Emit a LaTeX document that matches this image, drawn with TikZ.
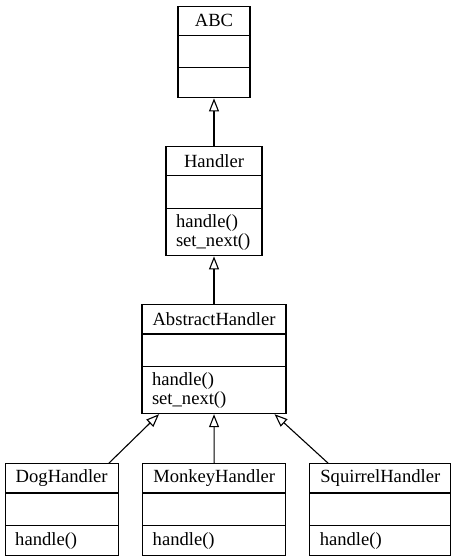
\documentclass[tikz,border=0pt]{standalone}
\usepackage{fontspec}
\setmainfont{Liberation Serif}
\usetikzlibrary{shapes.multipart,arrows.meta}

\tikzset{
  umlclass/.style={draw, line width=1.1pt, rectangle split, rectangle split parts=3,
    inner sep=0pt, anchor=north, font=\fontsize{18.6}{19}\selectfont},
  inherit/.style={-{Triangle[open,length=13pt,width=10pt]}, line width=1.1pt}
}
\newcommand{\umlname}[2]{\parbox[c][28pt][c]{#1pt}{\centering #2}}
\newcommand{\umlgap}[1]{\parbox[c][31.5pt][c]{#1pt}{\mbox{}}}
\newcommand{\umlops}[3]{\parbox[c][#2pt][c]{#1pt}{\raggedright\leftskip=10pt #3}}

\begin{document}
\begin{tikzpicture}[x=1pt,y=-1pt]
\useasboundingbox (0,0) rectangle (457,560);

% Classes
\node[umlclass] (abc) at (214,5.5) {\umlname{72}{ABC}\nodepart{two}\umlgap{72}\nodepart{three}\umlops{72}{29}{}};
\node[umlclass] (handler) at (214,146) {\umlname{96}{Handler}\nodepart{two}\umlgap{96}\nodepart{three}\umlops{96}{46.5}{handle()\\set\_next()}};
\node[umlclass] (abstract) at (214,304.3) {\umlname{144}{AbstractHandler}\nodepart{two}\umlgap{144}\nodepart{three}\umlops{144}{46}{handle()\\set\_next()}};
\node[umlclass] (dog) at (61.7,463.3) {\umlname{113}{DogHandler}\nodepart{two}\umlgap{113}\nodepart{three}\umlops{113}{29}{handle()}};
\node[umlclass] (monkey) at (214.2,463.3) {\umlname{143}{MonkeyHandler}\nodepart{two}\umlgap{143}\nodepart{three}\umlops{143}{29}{handle()}};
\node[umlclass] (squirrel) at (380.3,463.3) {\umlname{141}{SquirrelHandler}\nodepart{two}\umlgap{141}\nodepart{three}\umlops{141}{29}{handle()}};

% Inheritance
\draw[inherit] (handler.north) -- (abc.south);
\draw[inherit] (abstract.north) -- (handler.south);
\draw[inherit] (monkey.north) -- (abstract.south);
\draw[inherit] ([xshift=-10pt]dog.north east) -- ([xshift=17.6pt]abstract.south west);
\draw[inherit] ([xshift=19pt]squirrel.north west) -- ([xshift=-12pt]abstract.south east);
\end{tikzpicture}
\end{document}
